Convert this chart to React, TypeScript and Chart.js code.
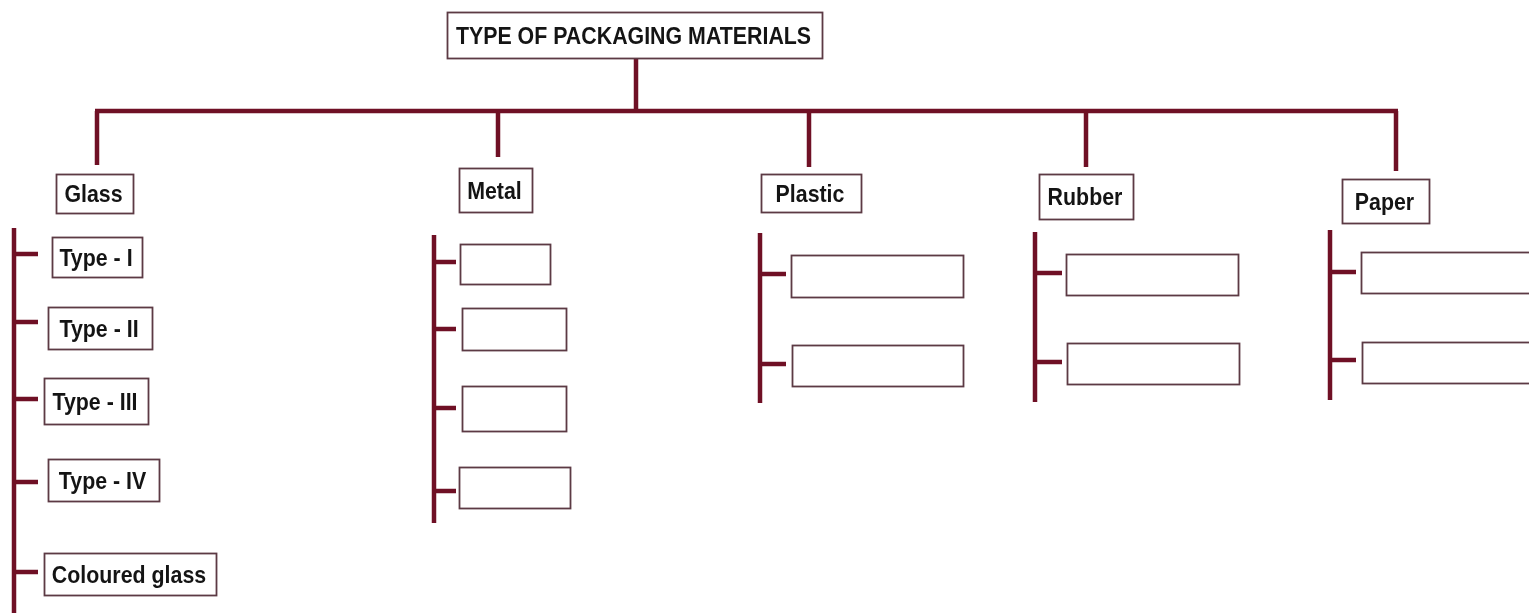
import React, { useEffect, useRef } from "react";
import { Chart, registerables } from "chart.js";

Chart.register(...registerables);

// ---------------- DATA (labels only) ----------------
const rootLabel = "TYPE OF PACKAGING MATERIALS";
const categories = ["Glass", "Metal", "Plastic", "Rubber", "Paper"];
const glassItems = ["Type - I", "Type - II", "Type - III", "Type - IV", "Coloured glass"];
const metalItems = ["", "", "", ""];
const plasticItems = ["", ""];
const rubberItems = ["", ""];
const paperItems = ["", ""];
const childLists = [glassItems, metalItems, plasticItems, rubberItems, paperItems];

// ---------------- LAYOUT (diagram units) ----------------
const W = 1529;
const H = 613;
type Box = [number, number, number, number]; // x0, x1, y0, y1
const rootBox: Box = [447, 822, 12, 58];
const rootStemX = 636;
const busY = 111;
const busLeft = 95;
const busRight = 1398;
const dropX = [97, 498, 809, 1086, 1396];
const dropBottom = [165, 157, 167, 167, 171];
const categoryBoxes: Box[] = [
  [56, 133, 174, 213],
  [459, 532, 168, 212],
  [761, 861, 174, 212],
  [1039, 1133, 174, 219],
  [1342, 1429, 179, 223],
];
const bracketX = [14, 434, 760, 1035, 1330];
const bracketTop = [228, 235, 233, 232, 230];
const bracketBottom = [616, 523, 403, 402, 400];
const tickEnd = [38, 456, 786, 1062, 1356];
const childTickY = [
  [254, 322, 399, 482, 572],
  [262, 329, 408, 491],
  [274, 364],
  [273, 362],
  [272, 360],
];
const childBoxes: Box[][] = [
  [
    [52, 142, 237, 277],
    [48, 152, 307, 349],
    [44, 148, 378, 424],
    [48, 159, 459, 501],
    [44, 216, 553, 595],
  ],
  [
    [460, 550, 244, 284],
    [462, 566, 308, 350],
    [462, 566, 386, 431],
    [459, 570, 467, 508],
  ],
  [
    [791, 963, 255, 297],
    [792, 963, 345, 386],
  ],
  [
    [1066, 1238, 254, 295],
    [1067, 1239, 343, 384],
  ],
  [
    [1361, 1540, 252, 293],
    [1362, 1540, 342, 383],
  ],
];

// ---------------- STYLE ----------------
const lineColor = "#6f1025";
const lineWidth = 4.5;
const boxStroke = "#5c3a44";
const textColor = "#141414";
const fontSize = 24;
const textSquash = 0.89;

type Seg = [number, number, number, number];

function buildSegments(): Seg[] {
  const segs: Seg[] = [];
  segs.push([rootStemX, rootBox[3], rootStemX, busY]);
  segs.push([busLeft, busY, busRight, busY]);
  categories.forEach((_, i) => {
    segs.push([dropX[i], busY, dropX[i], dropBottom[i]]);
    segs.push([bracketX[i], bracketTop[i], bracketX[i], bracketBottom[i]]);
    childLists[i].forEach((_, j) => {
      segs.push([bracketX[i], childTickY[i][j], tickEnd[i], childTickY[i][j]]);
    });
  });
  return segs;
}

const boxPlugin = {
  id: "treeBoxes",
  afterDatasetsDraw(chart: any) {
    const ctx: CanvasRenderingContext2D = chart.ctx;
    const xs = chart.scales.x;
    const ys = chart.scales.y;
    const drawBox = (b: Box, label: string) => {
      const x0 = xs.getPixelForValue(b[0]);
      const x1 = xs.getPixelForValue(b[1]);
      const y0 = ys.getPixelForValue(b[2]);
      const y1 = ys.getPixelForValue(b[3]);
      const left = Math.min(x0, x1);
      const top = Math.min(y0, y1);
      const w = Math.abs(x1 - x0);
      const h = Math.abs(y1 - y0);
      ctx.save();
      ctx.fillStyle = "#ffffff";
      ctx.fillRect(left, top, w, h);
      ctx.strokeStyle = boxStroke;
      ctx.lineWidth = 1.8;
      ctx.strokeRect(left + 0.5, top + 0.5, w, h);
      if (label) {
        ctx.fillStyle = textColor;
        ctx.font = `bold ${fontSize}px "Liberation Sans", Arial, sans-serif`;
        ctx.textAlign = "center";
        ctx.textBaseline = "alphabetic";
        const cx = left + w / 2 - 1;
        const baseline = top + h / 2 + fontSize * 0.36;
        ctx.translate(cx, baseline);
        ctx.scale(textSquash, 1);
        ctx.fillText(label, 0, 0);
      }
      ctx.restore();
    };
    drawBox(rootBox, rootLabel);
    categories.forEach((c, i) => {
      drawBox(categoryBoxes[i], c);
      childLists[i].forEach((lbl, j) => drawBox(childBoxes[i][j], lbl));
    });
  },
};

export default function App() {
  const ref = useRef<HTMLCanvasElement | null>(null);
  useEffect(() => {
    document.body.style.margin = "0";
    document.body.style.background = "#ffffff";
    const segs = buildSegments();
    const datasets = segs.map((s) => ({
      type: "line" as const,
      data: [
        { x: s[0], y: s[1] },
        { x: s[2], y: s[3] },
      ],
      borderColor: lineColor,
      borderWidth: lineWidth,
      borderCapStyle: "butt" as const,
      pointRadius: 0,
      pointHoverRadius: 0,
      showLine: true,
      fill: false,
      tension: 0,
      clip: false as any,
    }));
    const chart = new Chart(ref.current!, {
      type: "scatter",
      data: { datasets },
      options: {
        animation: false,
        responsive: true,
        maintainAspectRatio: false,
        layout: { padding: 0 },
        events: [],
        scales: {
          x: { type: "linear", min: 0, max: W, display: false },
          y: { type: "linear", min: 0, max: H, reverse: true, display: false },
        },
        plugins: {
          legend: { display: false },
          tooltip: { enabled: false },
          title: { display: false },
        },
      },
      plugins: [boxPlugin],
    });
    return () => chart.destroy();
  }, []);
  return (
    <div style={{ width: W, height: H, position: "relative", background: "#fff" }}>
      <canvas ref={ref} />
    </div>
  );
}
